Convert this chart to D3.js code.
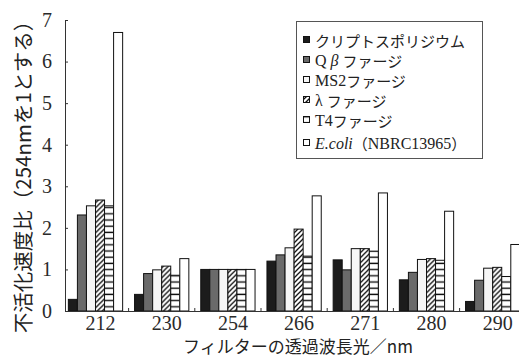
<!DOCTYPE html>
<html>
<head>
<meta charset="utf-8">
<script src="https://cdn.jsdelivr.net/npm/d3@7"></script>
<style>
  html, body { margin: 0; padding: 0; background: #fff; }
  svg { display: block; }
  .num { font-family: "Liberation Serif", "Times New Roman", serif; }
</style>
</head>
<body>
<svg id="chart" width="519" height="358"></svg>
<script>
// Filter transmission wavelength (nm) categories
const wavelengths = ["212", "230", "254", "266", "271", "280", "290"];

// Series names, in legend order
const seriesNames = ["クリプトスポリジウム", "Ｑβファージ", "MS2ファージ", "λファージ", "T4ファージ", "E.coli"];

// Inactivation rate ratio, relative to 254 nm = 1
const cryptoValues = [0.28, 0.40, 1.00, 1.20, 1.23, 0.75, 0.23];
const qbetaValues  = [2.31, 0.90, 1.00, 1.35, 0.99, 0.93, 0.74];
const ms2Values    = [2.53, 0.99, 1.00, 1.52, 1.50, 1.24, 1.03];
const lambdaValues = [2.67, 1.08, 1.00, 1.97, 1.50, 1.26, 1.05];
const t4Values     = [2.53, 0.86, 1.00, 1.32, 1.44, 1.22, 0.83];
const ecoliValues  = [6.70, 1.26, 1.00, 2.77, 2.84, 2.40, 1.60];

const yTicks = [0, 1, 2, 3, 4, 5, 6, 7];

const seriesValues = [cryptoValues, qbetaValues, ms2Values, lambdaValues, t4Values, ecoliValues];
const fills = ["#1c1c1c", "#6a6a6a", "#f6f6f6", "url(#diag)", "url(#horiz)", "#ffffff"];

const svg = d3.select("#chart");
const serif = "Liberation Serif";
const jp = "Noto Sans CJK JP";

// Hatch patterns
const defs = svg.append("defs");
const diag = defs.append("pattern").attr("id", "diag")
  .attr("patternUnits", "userSpaceOnUse").attr("width", 5).attr("height", 5);
diag.append("rect").attr("width", 5).attr("height", 5).attr("fill", "#fff");
diag.append("path").attr("d", "M-1,1 L1,-1 M0,5 L5,0 M4,6 L6,4")
  .attr("stroke", "#111").attr("stroke-width", 1.3);
const horiz = defs.append("pattern").attr("id", "horiz")
  .attr("patternUnits", "userSpaceOnUse").attr("width", 6).attr("height", 6.2);
horiz.append("rect").attr("width", 6).attr("height", 6.2).attr("fill", "#fff");
horiz.append("line").attr("x1", 0).attr("x2", 6).attr("y1", 3).attr("y2", 3)
  .attr("stroke", "#111").attr("stroke-width", 1.4);

const axisX = 65, baseY = 311, topY = 20;

const y = d3.scaleLinear().domain([0, 7]).range([baseY, topY]);
const x = d3.scaleBand().domain(wavelengths).range([62.4, 525.8])
  .paddingInner(0.18).paddingOuter(0.09);
const xs = d3.scaleBand().domain(d3.range(seriesNames.length)).range([0, x.bandwidth()]);

// Bars
const groups = svg.append("g").selectAll("g").data(wavelengths).join("g")
  .attr("transform", d => `translate(${x(d)},0)`);
groups.selectAll("rect")
  .data((d, i) => seriesValues.map((vals, s) => ({ s, v: vals[i] })))
  .join("rect")
  .attr("x", d => xs(d.s))
  .attr("y", d => y(d.v))
  .attr("width", xs.bandwidth())
  .attr("height", d => baseY - y(d.v))
  .attr("fill", d => fills[d.s])
  .attr("stroke", "#111")
  .attr("stroke-width", 1);

// Y axis
const yAxis = svg.append("g").attr("transform", `translate(${axisX},0)`)
  .call(d3.axisLeft(y).tickValues(yTicks).tickFormat(d3.format("d"))
    .tickSizeInner(-3).tickSizeOuter(0).tickPadding(13));
yAxis.attr("font-family", serif).attr("font-size", 20);
yAxis.select(".domain").attr("stroke", "#333");
yAxis.selectAll(".tick line").attr("stroke", "#333");
yAxis.selectAll("text").attr("class", "num").attr("fill", "#2a2a2a");

// X axis (labels sit slightly right of the group centres)
const xAxis = svg.append("g").attr("transform", `translate(0,${baseY})`)
  .call(d3.axisBottom(x).tickSize(0).tickPadding(5));
xAxis.attr("font-family", serif).attr("font-size", 20);
xAxis.select(".domain").attr("d", `M${axisX},0.5H519`).attr("stroke", "#333");
xAxis.selectAll("text").attr("class", "num").attr("fill", "#2a2a2a").attr("dx", 5);
// separators between wavelength groups
svg.append("g").selectAll("line")
  .data(wavelengths.slice(1))
  .join("line")
  .attr("x1", d => x(d) - x.step() * x.paddingInner() / 2)
  .attr("x2", d => x(d) - x.step() * x.paddingInner() / 2)
  .attr("y1", baseY).attr("y2", baseY - 3)
  .attr("stroke", "#333");

// Axis titles
svg.append("text")
  .attr("transform", "translate(22,172) rotate(-90)")
  .attr("text-anchor", "middle").attr("dominant-baseline", "central")
  .attr("font-family", jp).attr("font-size", 20.5).attr("fill", "#222")
  .text("不活化速度比（254nmを1とする）");
svg.append("text")
  .attr("x", 298).attr("y", 345)
  .attr("text-anchor", "middle").attr("dominant-baseline", "central")
  .attr("font-family", jp).attr("font-size", 17).attr("fill", "#222")
  .text("フィルターの透過波長光／nm");

// Legend
const legend = svg.append("g");
legend.append("rect").attr("x", 296.5).attr("y", 21.5).attr("width", 186).attr("height", 137)
  .attr("fill", "#fff").attr("stroke", "#555").attr("stroke-width", 1);
const rowY = [40, 60, 80, 100, 120, 143];
const rows = legend.selectAll("g.row").data(seriesNames).join("g")
  .attr("class", "row")
  .attr("transform", (d, i) => `translate(303,${rowY[i]})`);
rows.append("rect").attr("x", 0.5).attr("y", -3.5).attr("width", 6).attr("height", 6)
  .attr("fill", (d, i) => fills[i]).attr("stroke", "#111").attr("stroke-width", 1);
rows.each(function (d, i) {
  const t = d3.select(this).append("text").attr("x", 12).attr("y", 0)
    .attr("dominant-baseline", "central").attr("font-size", 15).attr("fill", "#222")
    .attr("font-family", jp);
  if (i === 5) {
    t.append("tspan").attr("font-family", serif).attr("font-style", "italic")
      .attr("font-size", 16).text("E.coli");
    t.append("tspan").text("（");
    t.append("tspan").attr("font-family", serif).attr("font-size", 16).text("NBRC13965");
    t.append("tspan").text("）");
  } else if (i === 2 || i === 4) {
    t.append("tspan").attr("font-family", serif).attr("font-size", 16).text(i === 2 ? "MS2" : "T4");
    t.append("tspan").text("ファージ");
  } else if (i === 3) {
    t.append("tspan").attr("font-family", serif).attr("font-size", 16).text("λ");
    t.append("tspan").attr("dx", 4).text("ファージ");
  } else if (i === 1) {
    t.append("tspan").attr("font-family", serif).attr("font-size", 16).text("Q");
    t.append("tspan").attr("dx", 4).attr("font-family", serif).attr("font-style", "italic")
      .attr("font-size", 16).text("β");
    t.append("tspan").attr("dx", 4).text("ファージ");
  } else {
    t.text(d);
  }
});
</script>
</body>
</html>
